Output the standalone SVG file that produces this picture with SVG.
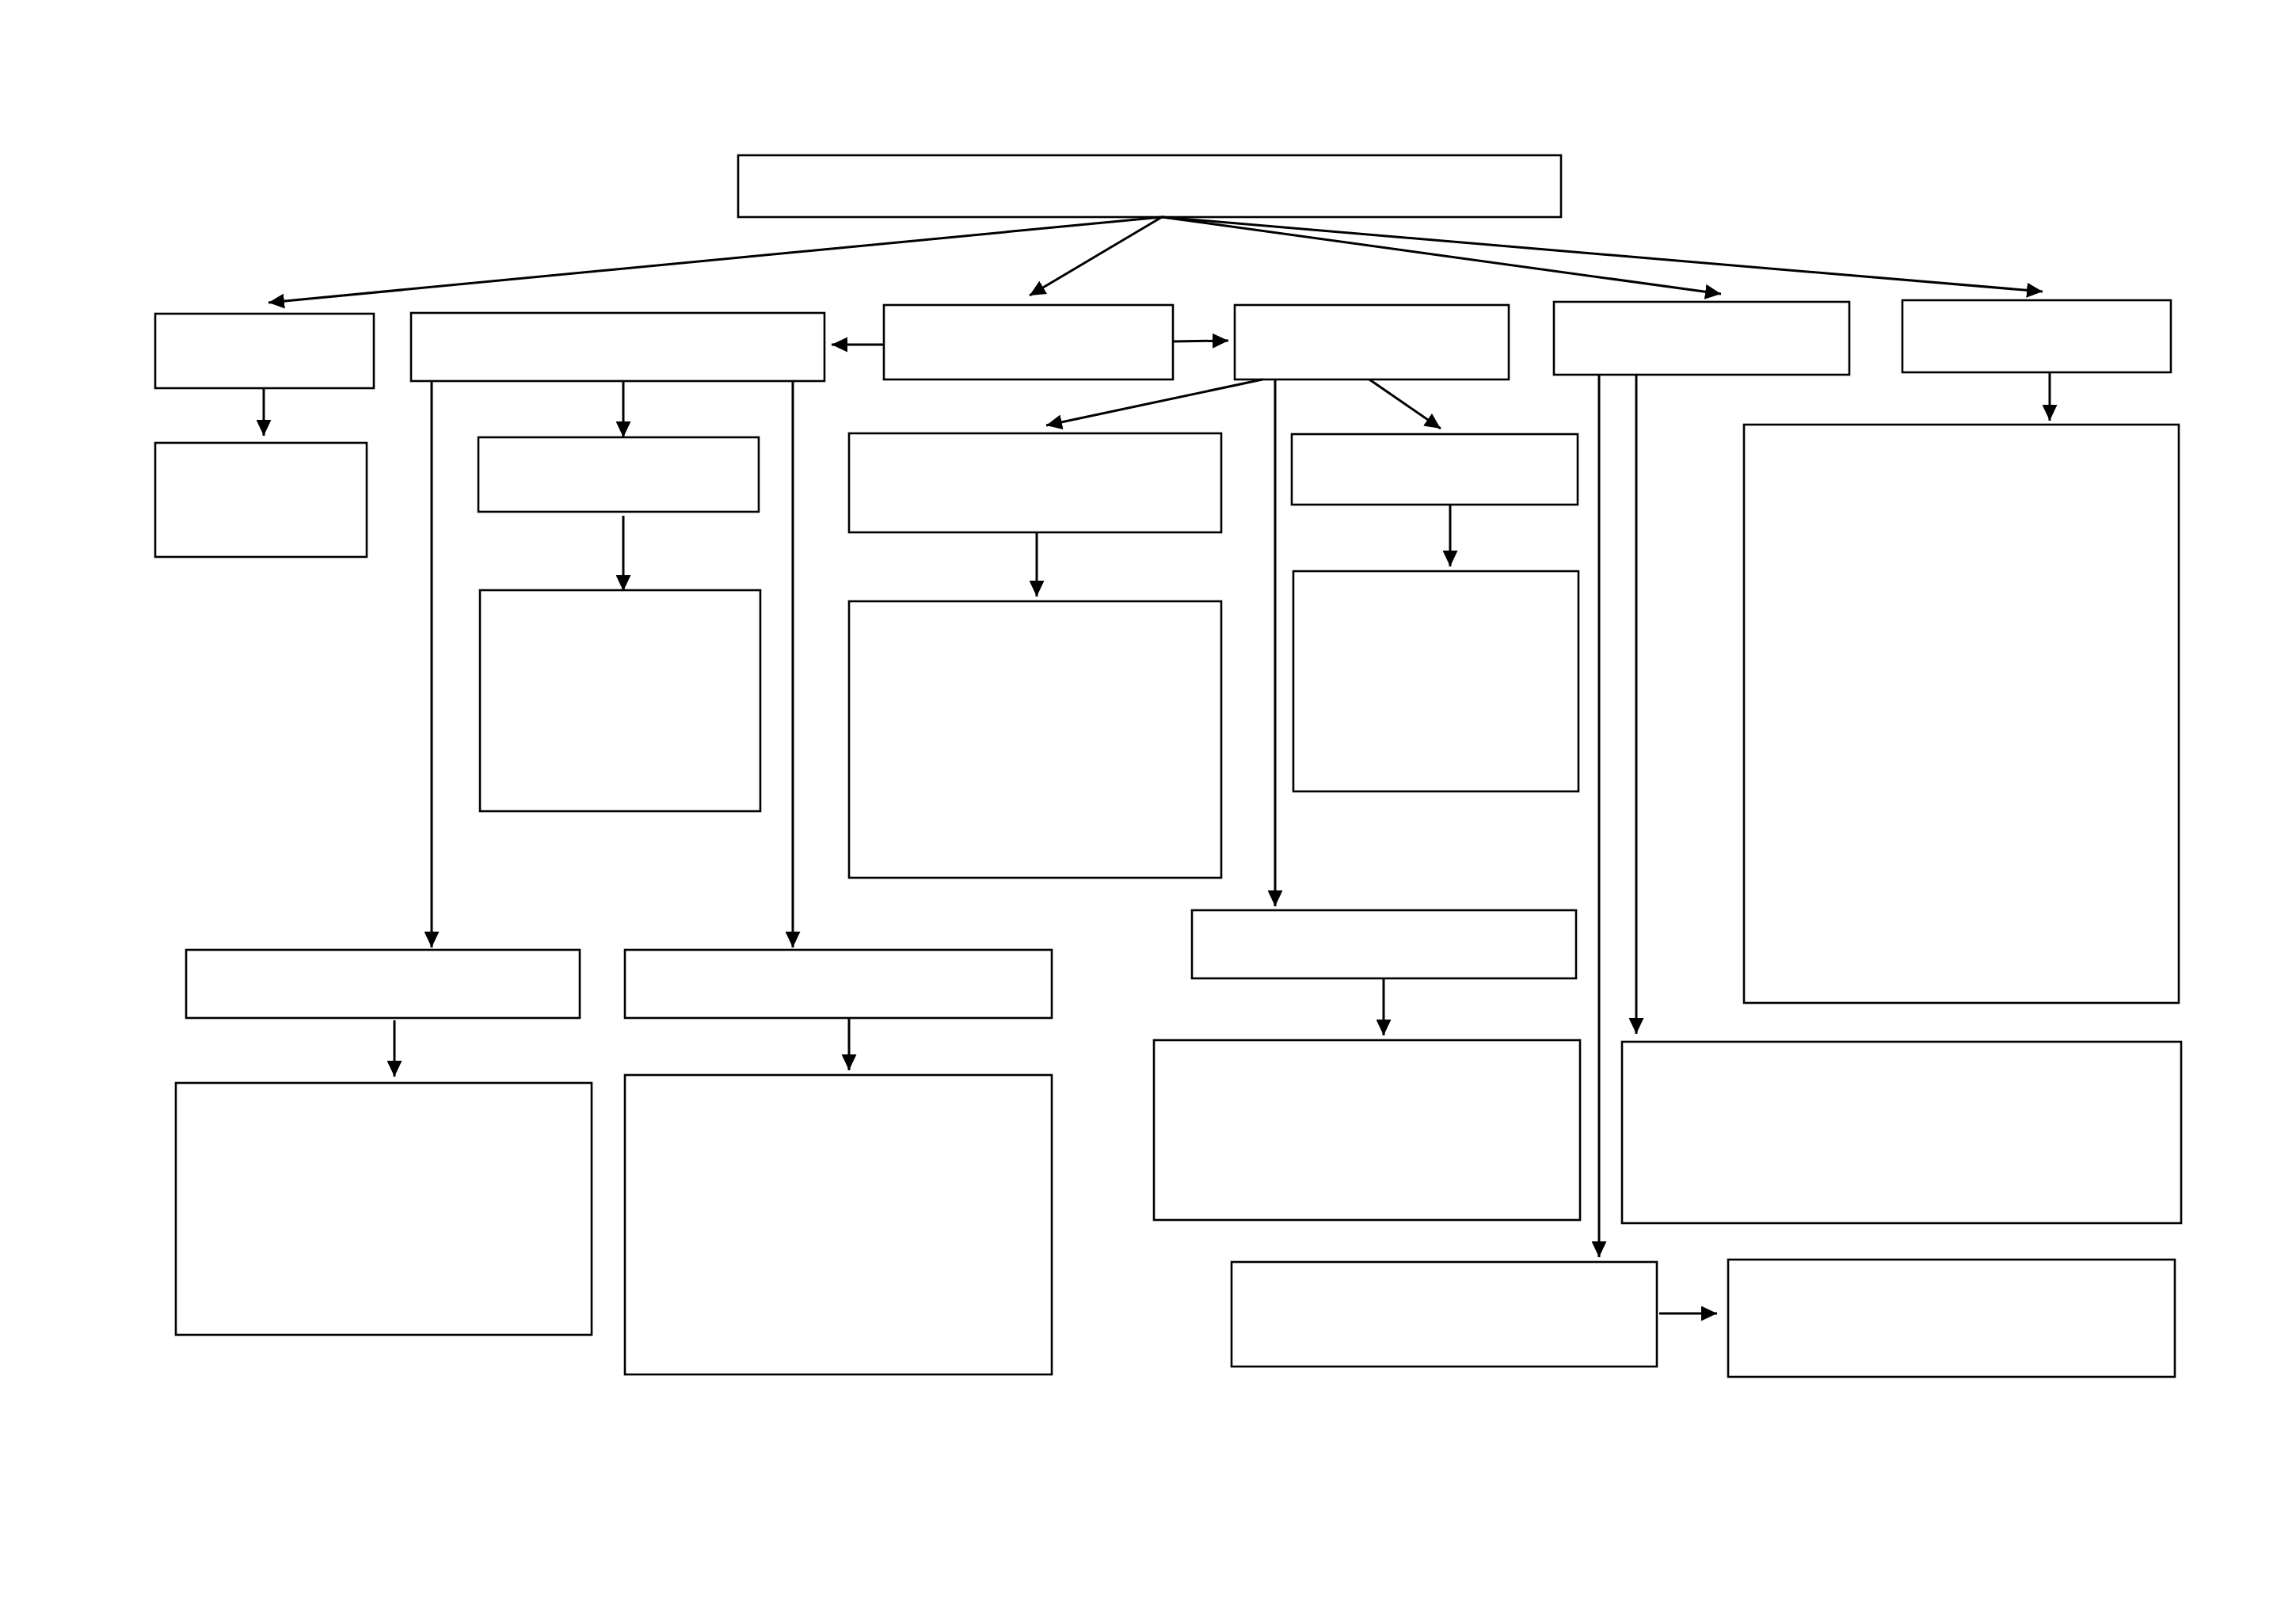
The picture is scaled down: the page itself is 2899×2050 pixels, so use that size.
<svg xmlns="http://www.w3.org/2000/svg" width="2899" height="2050" viewBox="0 0 2899 2050">
<style>
.n rect{fill:#fff;stroke:#000;stroke-width:2.6}
#connectors line{stroke:#000;stroke-width:3;fill:none;marker-end:url(#ah)}
</style>
<defs>
<marker id="ah" markerUnits="userSpaceOnUse" markerWidth="20" markerHeight="19" refX="20" refY="9.5" orient="auto" viewBox="0 0 20 19">
<path d="M0,0 L20,9.5 L0,19 z" fill="#000"/>
</marker>
</defs>
<rect width="2899" height="2050" fill="#fff"/>
<g id="root" class="n"><rect x="932" y="196" width="1039" height="78"/></g>
<g id="nA" class="n"><rect x="196" y="396" width="276" height="94"/></g>
<g id="nA2" class="n"><rect x="196" y="559" width="267" height="144"/></g>
<g id="nB" class="n"><rect x="519" y="395" width="522" height="86"/></g>
<g id="nB2" class="n"><rect x="604" y="552" width="354" height="94"/></g>
<g id="nB3" class="n"><rect x="606" y="745" width="354" height="279"/></g>
<g id="nC" class="n"><rect x="1116" y="385" width="365" height="94"/></g>
<g id="nC2" class="n"><rect x="1072" y="547" width="470" height="125"/></g>
<g id="nC3" class="n"><rect x="1072" y="759" width="470" height="349"/></g>
<g id="nD" class="n"><rect x="1559" y="385" width="346" height="94"/></g>
<g id="nD2" class="n"><rect x="1631" y="548" width="361" height="89"/></g>
<g id="nD3" class="n"><rect x="1633" y="721" width="360" height="278"/></g>
<g id="nD4" class="n"><rect x="1505" y="1149" width="485" height="86"/></g>
<g id="nD5" class="n"><rect x="1457" y="1313" width="538" height="227"/></g>
<g id="nE" class="n"><rect x="1962" y="381" width="373" height="92"/></g>
<g id="nE2" class="n"><rect x="2048" y="1315" width="706" height="229"/></g>
<g id="nE3" class="n"><rect x="1555" y="1593" width="537" height="132"/></g>
<g id="nE4" class="n"><rect x="2182" y="1590" width="564" height="148"/></g>
<g id="nF" class="n"><rect x="2402" y="379" width="339" height="91"/></g>
<g id="nF2" class="n"><rect x="2202" y="536" width="549" height="730"/></g>
<g id="nG" class="n"><rect x="235" y="1199" width="497" height="86"/></g>
<g id="nG2" class="n"><rect x="222" y="1367" width="525" height="318"/></g>
<g id="nH" class="n"><rect x="789" y="1199" width="539" height="86"/></g>
<g id="nH2" class="n"><rect x="789" y="1357" width="539" height="378"/></g>
<g id="connectors">
<line x1="1467" y1="274" x2="339" y2="382"/>
<line x1="1467" y1="274" x2="1300" y2="373"/>
<line x1="1467" y1="274" x2="2173" y2="371"/>
<line x1="1467" y1="274" x2="2579" y2="368"/>
<line x1="1116" y1="435" x2="1050" y2="435"/>
<line x1="1481" y1="431" x2="1551" y2="430"/>
<line x1="333" y1="490" x2="333" y2="550"/>
<line x1="787" y1="481" x2="787" y2="552"/>
<line x1="787" y1="651" x2="787" y2="746"/>
<line x1="545" y1="481" x2="545" y2="1196"/>
<line x1="1001" y1="481" x2="1001" y2="1196"/>
<line x1="498" y1="1288" x2="498" y2="1359"/>
<line x1="1072" y1="1286" x2="1072" y2="1351"/>
<line x1="1594" y1="479" x2="1321" y2="537"/>
<line x1="1729" y1="479" x2="1819" y2="541"/>
<line x1="1309" y1="672" x2="1309" y2="753"/>
<line x1="1831" y1="637" x2="1831" y2="715"/>
<line x1="1610" y1="479" x2="1610" y2="1144"/>
<line x1="1747" y1="1235" x2="1747" y2="1307"/>
<line x1="2019" y1="473" x2="2019" y2="1587"/>
<line x1="2066" y1="473" x2="2066" y2="1305"/>
<line x1="2588" y1="470" x2="2588" y2="531"/>
<line x1="2095" y1="1658" x2="2168" y2="1658"/>
</g>
</svg>
